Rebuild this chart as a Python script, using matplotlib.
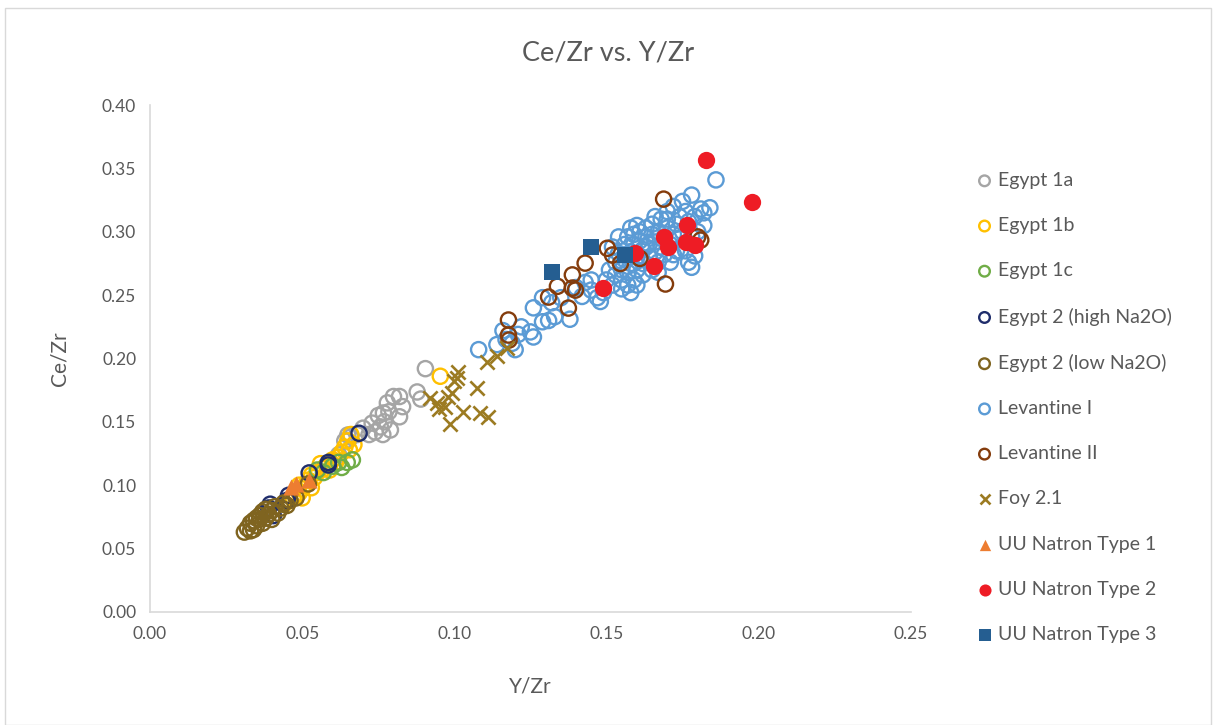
import matplotlib
matplotlib.use('Agg')
import matplotlib.pyplot as plt
from matplotlib.patches import Rectangle

plt.rcParams['font.family'] = ['Lato', 'DejaVu Sans']

# Egypt 1a
e1a_x = [0.0905, 0.0878, 0.0890, 0.082, 0.080, 0.078, 0.0767, 0.0757, 0.079, 0.082, 0.083,
         0.073, 0.065, 0.075, 0.077, 0.074, 0.072, 0.070, 0.068, 0.066, 0.0765, 0.0785, 0.064, 0.062]
e1a_y = [0.192, 0.1736, 0.168, 0.170, 0.170, 0.165, 0.157, 0.146, 0.1436, 0.154, 0.162,
         0.149, 0.1396, 0.155, 0.150, 0.142, 0.140, 0.145, 0.140, 0.138, 0.140, 0.158, 0.135, 0.124]
# Egypt 1b
e1b_x = [0.0954, 0.066, 0.065, 0.064, 0.063, 0.062, 0.060, 0.058, 0.057, 0.056, 0.055, 0.054, 0.053,
         0.052, 0.051, 0.050, 0.049, 0.048, 0.047, 0.046, 0.053, 0.050, 0.049, 0.044, 0.059, 0.0655,
         0.067, 0.061]
e1b_y = [0.186, 0.140, 0.135, 0.130, 0.126, 0.122, 0.120, 0.116, 0.113, 0.117, 0.110, 0.106, 0.108,
         0.104, 0.100, 0.097, 0.094, 0.092, 0.090, 0.088, 0.098, 0.090, 0.100, 0.085, 0.112, 0.128,
         0.132, 0.118]
# Egypt 1c
e1c_x = [0.055, 0.057, 0.060, 0.062, 0.0648, 0.063, 0.0665]
e1c_y = [0.112, 0.110, 0.115, 0.118, 0.118, 0.114, 0.120]
# Egypt 2 (high Na2O)
e2h_x = [0.0687, 0.0586, 0.0586, 0.0523, 0.0455, 0.045, 0.0395, 0.0405, 0.039]
e2h_y = [0.141, 0.118, 0.116, 0.1097, 0.092, 0.088, 0.085, 0.076, 0.082]
# Egypt 2 (low Na2O)
e2l_x = [0.031, 0.032, 0.033, 0.033, 0.034, 0.035, 0.036, 0.036, 0.037, 0.037, 0.038, 0.038, 0.039,
         0.040, 0.040, 0.041, 0.042, 0.043, 0.044, 0.045, 0.046, 0.048, 0.052, 0.034, 0.035]
e2l_y = [0.063, 0.066, 0.070, 0.064, 0.072, 0.068, 0.073, 0.076, 0.070, 0.079, 0.074, 0.081, 0.077,
         0.080, 0.073, 0.083, 0.078, 0.082, 0.086, 0.084, 0.088, 0.090, 0.101, 0.065, 0.074]
# Levantine I
lev1_x = [0.108, 0.114, 0.117, 0.119, 0.121, 0.122, 0.125, 0.126, 0.126, 0.129, 0.131, 0.129, 0.132,
          0.135, 0.138, 0.142, 0.145, 0.145, 0.147, 0.116, 0.120, 0.133, 0.140, 0.143, 0.148, 0.149,
          0.150, 0.151, 0.152, 0.153, 0.153, 0.154, 0.155, 0.155, 0.156, 0.156, 0.157, 0.157, 0.157,
          0.158, 0.158, 0.158, 0.159, 0.159, 0.159, 0.160, 0.160, 0.160, 0.161, 0.161, 0.162, 0.162,
          0.162, 0.163, 0.163, 0.164, 0.164, 0.165, 0.165, 0.165, 0.166, 0.166, 0.167, 0.167, 0.168,
          0.168, 0.169, 0.169, 0.170, 0.170, 0.171, 0.171, 0.172, 0.172, 0.173, 0.173, 0.174, 0.174,
          0.175, 0.175, 0.176, 0.176, 0.177, 0.177, 0.178, 0.178, 0.178, 0.179, 0.179, 0.180, 0.181,
          0.182, 0.182, 0.184, 0.186, 0.170, 0.163, 0.155, 0.157, 0.161, 0.167, 0.160, 0.152, 0.154,
          0.166, 0.172, 0.158]
lev1_y = [0.207, 0.211, 0.215, 0.212, 0.219, 0.225, 0.221, 0.217, 0.240, 0.229, 0.230, 0.248, 0.244,
          0.248, 0.231, 0.249, 0.262, 0.254, 0.248, 0.222, 0.207, 0.233, 0.256, 0.260, 0.245, 0.252,
          0.262, 0.270, 0.258, 0.266, 0.276, 0.283, 0.262, 0.270, 0.290, 0.278, 0.258, 0.268, 0.296,
          0.275, 0.284, 0.303, 0.262, 0.290, 0.298, 0.270, 0.280, 0.258, 0.293, 0.300, 0.275, 0.286,
          0.266, 0.296, 0.303, 0.280, 0.290, 0.270, 0.298, 0.306, 0.284, 0.292, 0.276, 0.300, 0.288,
          0.310, 0.296, 0.282, 0.303, 0.316, 0.290, 0.276, 0.298, 0.320, 0.306, 0.285, 0.312, 0.295,
          0.324, 0.300, 0.316, 0.285, 0.308, 0.276, 0.329, 0.296, 0.272, 0.281, 0.312, 0.300, 0.318,
          0.315, 0.305, 0.319, 0.341, 0.310, 0.288, 0.255, 0.282, 0.280, 0.268, 0.305, 0.288, 0.296,
          0.312, 0.282, 0.252]
# Levantine II
lev2_x = [0.1688, 0.180, 0.181, 0.1694, 0.1503, 0.152, 0.1546, 0.161, 0.143, 0.1388, 0.1339, 0.1388,
          0.1398, 0.131, 0.1375, 0.1178, 0.1178, 0.118]
lev2_y = [0.3258, 0.296, 0.2935, 0.2588, 0.287, 0.2817, 0.275, 0.279, 0.2753, 0.266, 0.257, 0.2556,
          0.254, 0.2485, 0.2398, 0.2304, 0.2185, 0.2146]
# Foy 2.1
foy_x = [0.1013, 0.101, 0.0993, 0.092, 0.0944, 0.097, 0.1075, 0.103, 0.0987, 0.1085, 0.1112, 0.1108,
         0.1174, 0.114, 0.098, 0.095, 0.100]
foy_y = [0.189, 0.185, 0.173, 0.169, 0.165, 0.162, 0.177, 0.158, 0.148, 0.157, 0.154, 0.197,
         0.208, 0.202, 0.170, 0.160, 0.182]
# UU Natron types
uu1_x = [0.0464, 0.0523, 0.048]
uu1_y = [0.0986, 0.104, 0.101]
uu2_x = [0.1826, 0.1977, 0.149, 0.1655, 0.1688, 0.1704, 0.1766, 0.176, 0.179, 0.1595]
uu2_y = [0.3566, 0.3235, 0.2556, 0.273, 0.296, 0.288, 0.305, 0.292, 0.2895, 0.283]
uu3_x = [0.1322, 0.145, 0.156]
uu3_y = [0.268, 0.288, 0.2817]

fig = plt.figure(figsize=(12.17, 7.25), dpi=100)
ax = fig.add_axes([0.1233, 0.156, 0.625, 0.699])

s_c = 120
lw = 1.7
ax.scatter(e1a_x, e1a_y, s=s_c, facecolors='none', edgecolors='#A5A5A5', linewidths=lw, label='Egypt 1a')
ax.scatter(e1b_x, e1b_y, s=s_c, facecolors='none', edgecolors='#FFC000', linewidths=lw, label='Egypt 1b')
ax.scatter(e1c_x, e1c_y, s=s_c, facecolors='none', edgecolors='#70AD47', linewidths=lw, label='Egypt 1c')
ax.scatter(e2h_x, e2h_y, s=s_c, facecolors='none', edgecolors='#1F2D6B', linewidths=lw, label='Egypt 2 (high Na2O)')
ax.scatter(e2l_x, e2l_y, s=s_c, facecolors='none', edgecolors='#7F6420', linewidths=lw, label='Egypt 2 (low Na2O)')
ax.scatter(lev1_x, lev1_y, s=s_c, facecolors='none', edgecolors='#5B9BD5', linewidths=lw, label='Levantine I')
ax.scatter(lev2_x, lev2_y, s=s_c, facecolors='none', edgecolors='#843C0C', linewidths=lw, label='Levantine II')
ax.scatter(foy_x, foy_y, s=105, marker='x', color='#9C7B22', linewidths=1.9, label='Foy 2.1')
ax.scatter(uu1_x, uu1_y, s=135, marker='^', color='#ED7D31', linewidths=0, label='UU Natron Type 1')
ax.scatter(uu2_x, uu2_y, s=155, marker='o', color='#EE1C25', linewidths=0, label='UU Natron Type 2')
ax.scatter(uu3_x, uu3_y, s=145, marker='s', color='#255E91', linewidths=0, label='UU Natron Type 3')

ax.set_xlim(0, 0.25)
ax.set_ylim(0, 0.40)
ax.set_xticks([0, 0.05, 0.10, 0.15, 0.20, 0.25])
ax.set_yticks([0, 0.05, 0.10, 0.15, 0.20, 0.25, 0.30, 0.35, 0.40])
ax.xaxis.set_major_formatter(matplotlib.ticker.FormatStrFormatter('%.2f'))
ax.yaxis.set_major_formatter(matplotlib.ticker.FormatStrFormatter('%.2f'))
ax.tick_params(length=0, labelsize=12.5, labelcolor='#595959', pad=10)
for side in ['top', 'right']:
    ax.spines[side].set_visible(False)
for side in ['left', 'bottom']:
    ax.spines[side].set_color('#D9D9D9')
    ax.spines[side].set_linewidth(1.2)

ax.set_xlabel('Y/Zr', fontsize=15, color='#595959', labelpad=25)
ax.set_ylabel('Ce/Zr', fontsize=15, color='#595959', labelpad=23)
fig.text(0.5, 0.927, 'Ce/Zr vs. Y/Zr', ha='center', va='center', fontsize=19.5, color='#595959')

leg = fig.legend(loc='upper left', bbox_to_anchor=(0.785, 0.787), frameon=False, fontsize=14,
                 labelspacing=1.45, handletextpad=0.1, markerscale=0.7, handlelength=1.2)
for t in leg.get_texts():
    t.set_color('#595959')

fig.patches.append(Rectangle((0.004, 0.0), 0.991, 0.989, transform=fig.transFigure,
                             fill=False, edgecolor='#D9D9D9', linewidth=1))

fig.savefig('out.png', dpi=100)
